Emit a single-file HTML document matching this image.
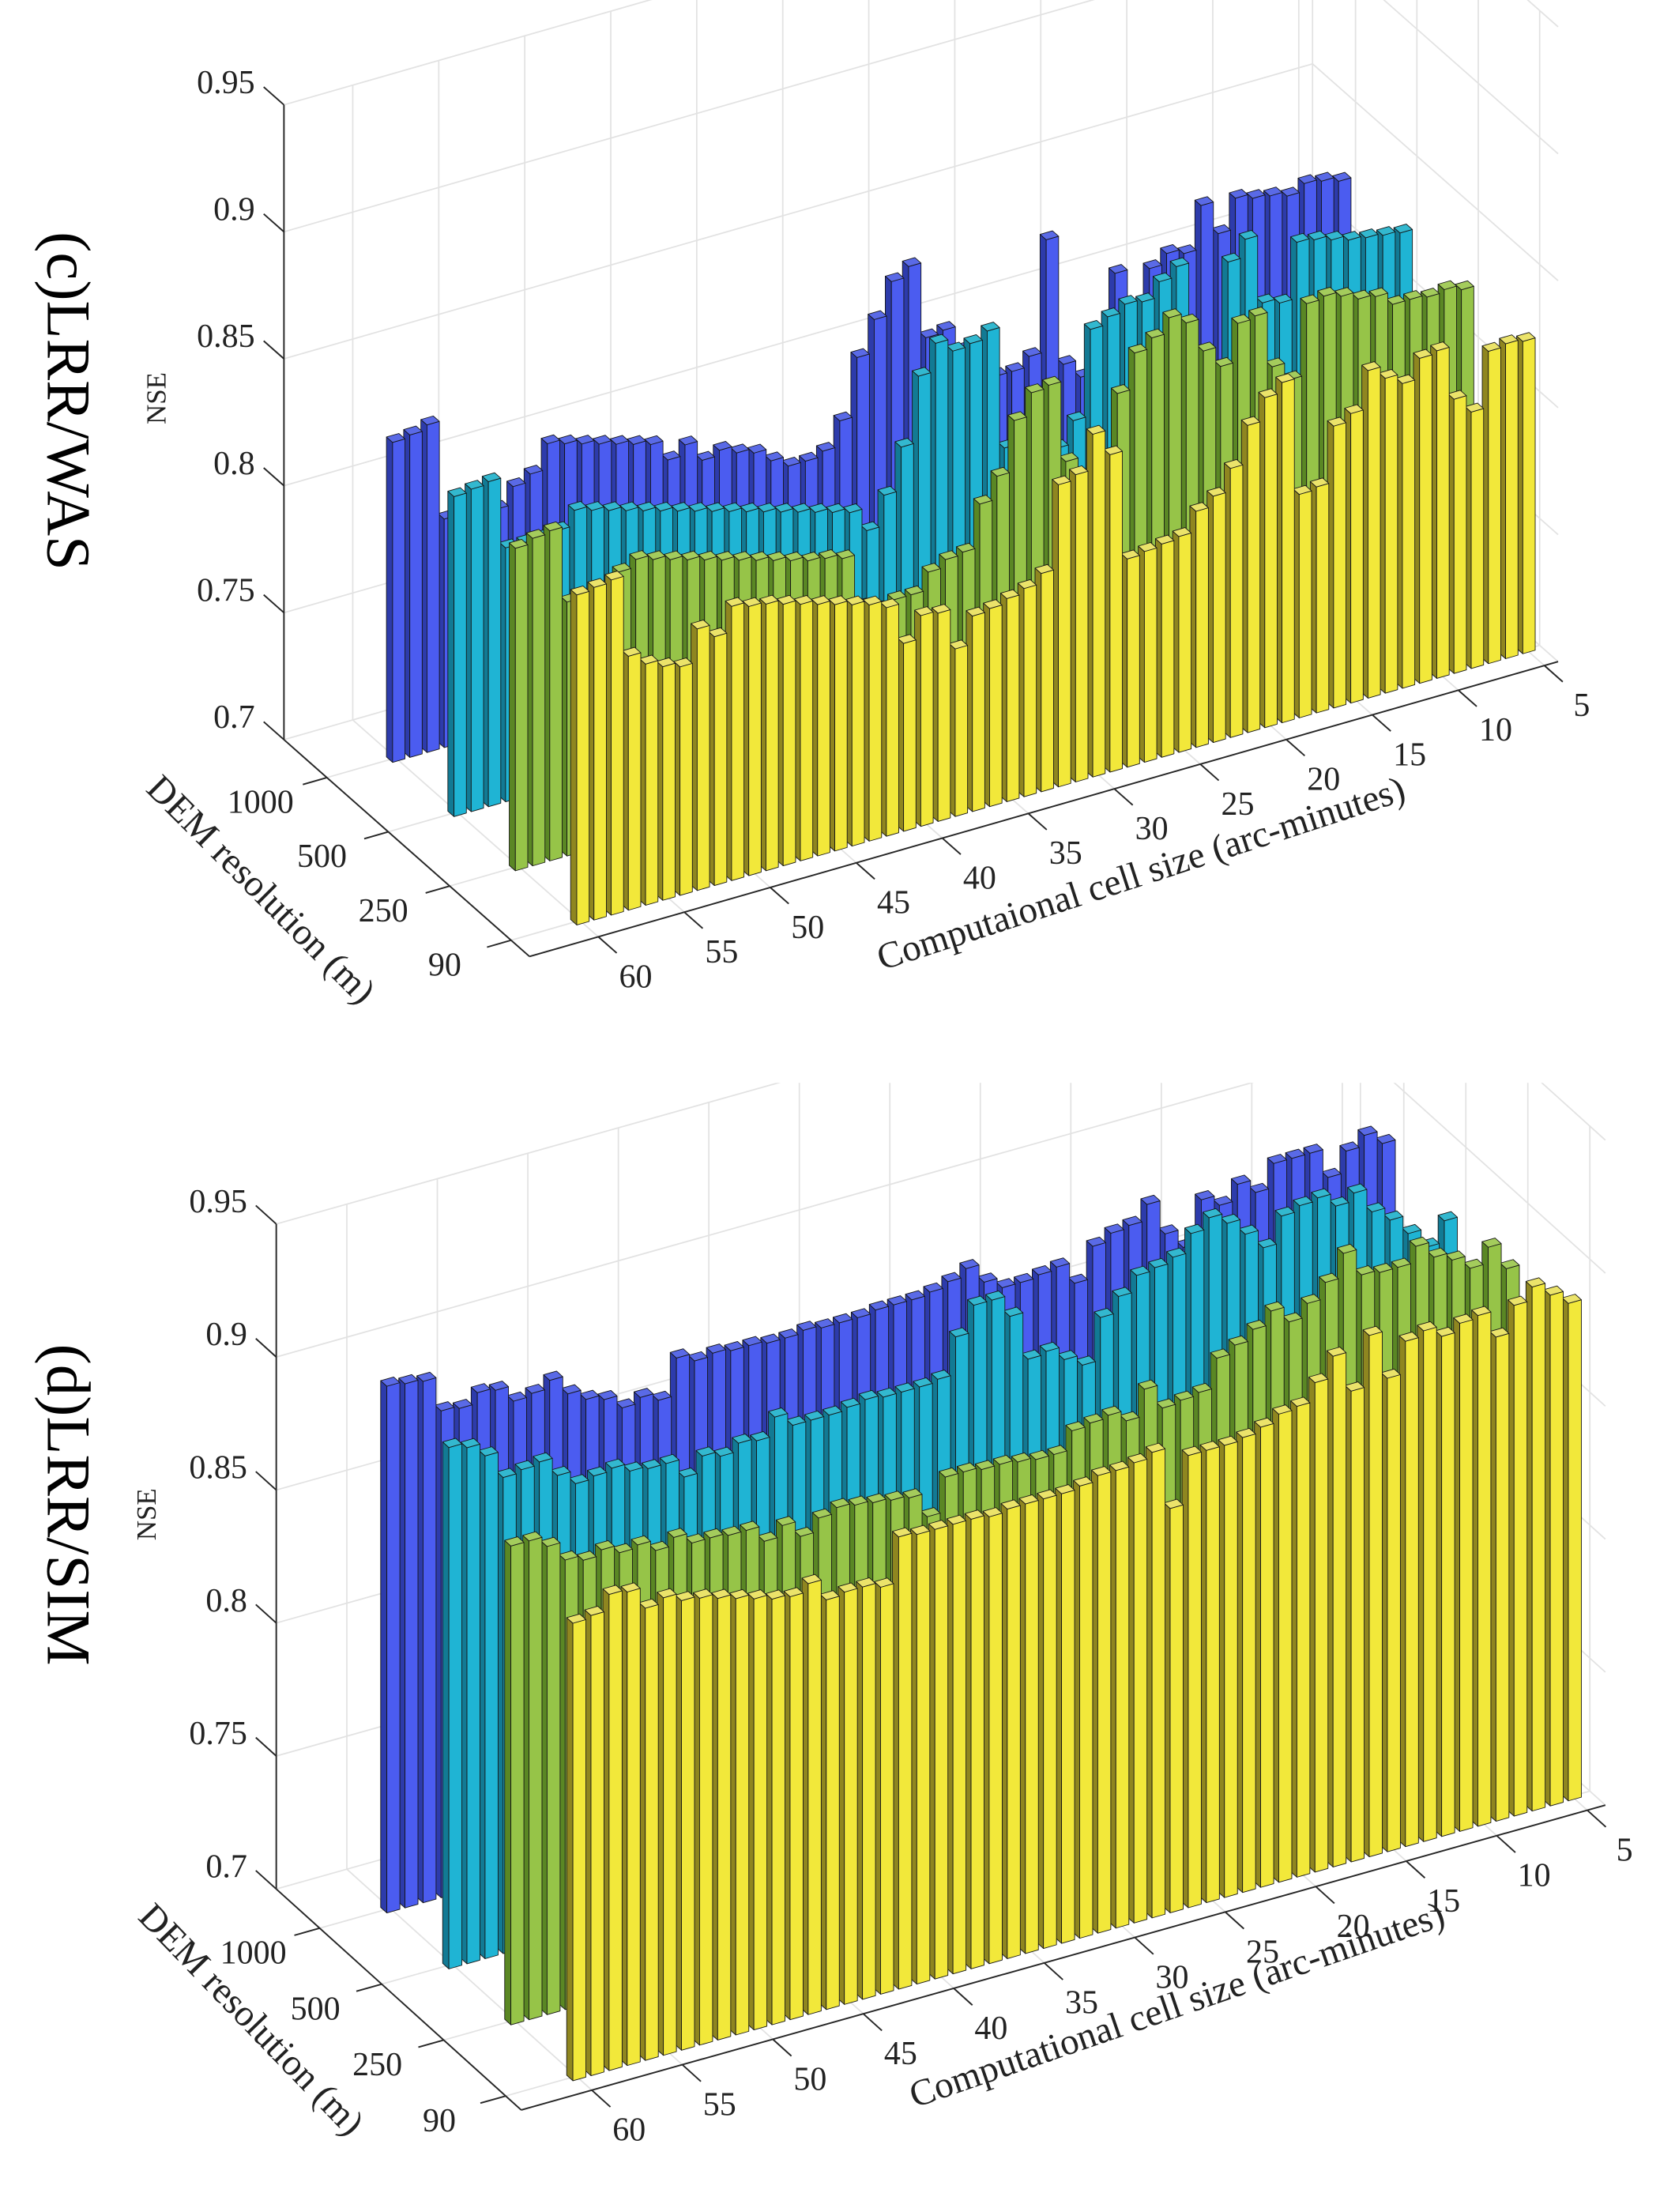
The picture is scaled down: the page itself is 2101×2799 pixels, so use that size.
<!DOCTYPE html>
<html><head><meta charset="utf-8"><title>NSE 3D bar charts</title>
<style>html,body{margin:0;padding:0;background:#fff}svg{display:block}</style></head>
<body>
<svg id="chart" xmlns="http://www.w3.org/2000/svg" width="2101" height="2799" viewBox="0 0 1200.57 1599.43" preserveAspectRatio="none" font-family="'Liberation Serif', serif">
<rect x="0" y="0" width="1201" height="1600" fill="#fff"/>
<defs>
<clipPath id="clip-c"><rect x="0" y="0" width="1201" height="770"/></clipPath>
<clipPath id="clip-d"><rect x="0" y="783" width="1201" height="820"/></clipPath>
</defs>
<g id="panel-c" clip-path="url(#clip-c)"></g>
<g id="panel-d" clip-path="url(#clip-d)"></g>
<text x="45" y="290" font-size="45" text-anchor="middle" dominant-baseline="middle" transform="rotate(90 45 290)" fill="#000">(c)LRR/WAS</text>
<text x="45" y="1088" font-size="45" text-anchor="middle" dominant-baseline="middle" transform="rotate(90 45 1088)" fill="#000">(d)LRR/SIM</text>
<text x="115" y="288" font-size="20" text-anchor="middle" dominant-baseline="middle" transform="rotate(-90 115 288)" fill="#222">NSE</text>
<text x="108" y="1095" font-size="20" text-anchor="middle" dominant-baseline="middle" transform="rotate(-90 108 1095)" fill="#222">NSE</text>
<text x="187" y="645" font-size="27" text-anchor="middle" dominant-baseline="middle" transform="rotate(45 187 645)" fill="#222">DEM resolution (m)</text>
<text x="180" y="1462" font-size="27" text-anchor="middle" dominant-baseline="middle" transform="rotate(46 180 1462)" fill="#222">DEM resolution (m)</text>
<text x="826" y="634" font-size="27" text-anchor="middle" dominant-baseline="middle" transform="rotate(-18 826 634)" fill="#222">Computaional cell size (arc-minutes)</text>
<text x="852" y="1452" font-size="27" text-anchor="middle" dominant-baseline="middle" transform="rotate(-19 852 1452)" fill="#222">Computational cell size (arc-minutes)</text>
</svg>
<script>
// ---- data (index 0 = cell size 60 ... index 55 = cell size 5) ----
const cellSizes = [60,59,58,57,56,55,54,53,52,51,50,49,48,47,46,45,44,43,42,41,40,39,38,37,36,35,34,33,32,31,30,29,28,27,26,25,24,23,22,21,20,19,18,17,16,15,14,13,12,11,10,9,8,7,6,5];
const demRows = [1,2,3,4];
const demLabels = ['1000','500','250','90'];
const xTicks = [5,10,15,20,25,30,35,40,45,50,55,60];
const xTickLabels = ['5','10','15','20','25','30','35','40','45','50','55','60'];
const zTicks = [0.7,0.75,0.8,0.85,0.9,0.95];
const zTickLabels = ['0.7','0.75','0.8','0.85','0.9','0.95'];

const wasBlue = [.826,.827,.829,.790,.790,.790,.788,.795,.798,.808,.806,.804,.802,.800,.798,.796,.788,.792,.784,.786,.783,.781,.776,.772,.772,.774,.784,.807,.820,.833,.837,.807,.808,.798,.785,.784,.784,.788,.832,.781,.774,.783,.811,.790,.809,.813,.811,.828,.815,.827,.825,.824,.822,.825,.824,.822];
const wasCyan = [.826,.827,.828,.800,.800,.800,.801,.807,.805,.803,.801,.799,.797,.795,.793,.791,.789,.787,.785,.783,.781,.779,.777,.775,.766,.778,.795,.821,.832,.827,.828,.831,.783,.776,.774,.777,.786,.820,.823,.826,.825,.831,.835,.789,.790,.831,.838,.811,.809,.831,.830,.828,.826,.825,.824,.823];
const wasGreen = [.827,.829,.830,.800,.800,.800,.806,.809,.807,.805,.803,.801,.799,.797,.795,.793,.791,.789,.788,.786,.765,.762,.764,.764,.771,.774,.775,.792,.801,.821,.830,.831,.799,.791,.792,.820,.834,.838,.844,.840,.827,.819,.834,.835,.813,.806,.834,.835,.833,.830,.829,.824,.824,.823,.824,.822];
const wasYellow = [.830,.831,.832,.800,.795,.792,.790,.803,.798,.808,.806,.805,.803,.801,.799,.797,.795,.793,.790,.774,.783,.782,.766,.777,.778,.780,.782,.786,.819,.821,.835,.825,.782,.783,.784,.785,.793,.797,.806,.821,.830,.834,.788,.789,.811,.814,.829,.824,.820,.828,.829,.808,.801,.823,.824,.823];

const simBlue = [.898,.897,.896,.883,.882,.886,.885,.879,.880,.883,.876,.872,.870,.865,.867,.864,.878,.875,.876,.875,.875,.874,.874,.875,.874,.874,.874,.875,.875,.875,.876,.878,.881,.874,.870,.870,.871,.872,.864,.876,.879,.880,.886,.873,.866,.882,.878,.884,.879,.888,.888,.888,.877,.885,.889,.884];
const simCyan = [.896,.894,.889,.879,.880,.881,.874,.869,.870,.871,.868,.867,.867,.860,.866,.864,.867,.866,.873,.868,.868,.868,.869,.870,.869,.869,.869,.870,.884,.894,.894,.886,.868,.869,.864,.860,.876,.882,.888,.889,.891,.898,.902,.898,.892,.885,.895,.897,.898,.893,.896,.887,.882,.875,.868,.876];
const simGreen = [.880,.880,.876,.869,.867,.869,.866,.867,.863,.866,.862,.862,.861,.861,.855,.859,.853,.858,.860,.859,.858,.857,.856,.847,.860,.860,.859,.859,.858,.857,.857,.864,.865,.866,.862,.872,.863,.864,.865,.876,.879,.883,.888,.882,.887,.893,.902,.892,.891,.891,.897,.891,.888,.883,.889,.879];
const simYellow = [.872,.873,.879,.878,.870,.872,.869,.868,.866,.864,.862,.860,.859,.862,.854,.855,.855,.853,.870,.869,.869,.869,.869,.868,.869,.869,.869,.869,.870,.872,.872,.873,.875,.852,.870,.870,.870,.871,.873,.876,.877,.884,.892,.877,.896,.878,.890,.892,.888,.891,.892,.882,.892,.897,.892,.887];

const rowFront = ['#4b5cf0','#1fb4d4','#96c448','#f2e83a'];
const rowSide  = ['#2d3bab','#127a94','#5a8724','#8f8620'];
const rowTop   = ['#5a6ae6','#33b8cf','#a4cc5c','#ebe36a'];
const rowNames = ['1000m','500m','250m','90m'];

const NS = 'http://www.w3.org/2000/svg';
const panels = [
  {id:'c', A:[419.4,665.6], ex:[12.44,-3.566], ey:[44.4,39.2], ez:1836, cmax:64.0, cmin:4.2, r0:0.3, rf:4.3,
   series:[wasBlue,wasCyan,wasGreen,wasYellow]},
  {id:'d', A:[416.8,1501.2], ex:[13.09,-3.68], ey:[44.85,40.45], ez:1923.4, cmax:63.9, cmin:4.0, r0:0.3, rf:4.25,
   series:[simBlue,simCyan,simGreen,simYellow]}
];
const zMin = 0.7, zMax = 0.95;

function proj(p, c, r, z) {
  return [p.A[0] + (60 - c) * p.ex[0] + (r - 4) * p.ey[0],
          p.A[1] + (60 - c) * p.ex[1] + (r - 4) * p.ey[1] - (z - zMin) * p.ez];
}
function pts(arr) { return arr.map(q => q[0].toFixed(2) + ',' + q[1].toFixed(2)).join(' '); }
function mkLine(g, a, b, stroke, w) {
  const el = document.createElementNS(NS, 'line');
  el.setAttribute('x1', a[0]); el.setAttribute('y1', a[1]);
  el.setAttribute('x2', b[0]); el.setAttribute('y2', b[1]);
  el.setAttribute('stroke', stroke); el.setAttribute('stroke-width', w);
  g.appendChild(el);
  return el;
}
function mkPoly(g, arr, fill) {
  const el = document.createElementNS(NS, 'polygon');
  el.setAttribute('points', pts(arr));
  el.setAttribute('fill', fill);
  el.setAttribute('stroke', '#141414');
  el.setAttribute('stroke-width', '0.5');
  el.setAttribute('stroke-linejoin', 'round');
  g.appendChild(el);
  return el;
}
function mkText(g, x, y, s, anchor) {
  const el = document.createElementNS(NS, 'text');
  el.setAttribute('x', x); el.setAttribute('y', y);
  el.setAttribute('font-size', '24');
  el.setAttribute('fill', '#222');
  el.setAttribute('text-anchor', anchor);
  el.setAttribute('dominant-baseline', 'middle');
  el.textContent = s;
  g.appendChild(el);
  return el;
}

panels.forEach(p => {
  const root = document.getElementById('panel-' + p.id);
  const grid = document.createElementNS(NS, 'g');
  
  
  root.appendChild(grid);
  const gc = '#e2e2e2';
  xTicks.forEach(c => {
    const l1 = mkLine(grid, proj(p, c, p.r0, zMin), proj(p, c, p.r0, zMax), gc, 1);
    
    
    const l2 = mkLine(grid, proj(p, c, p.r0, zMin), proj(p, c, p.rf, zMin), gc, 1);
    
    
  });
  zTicks.forEach(z => {
    const l1 = mkLine(grid, proj(p, p.cmax, p.r0, z), proj(p, p.cmin, p.r0, z), gc, 1);
    
    
    const l2 = mkLine(grid, proj(p, p.cmin, p.r0, z), proj(p, p.cmin, p.rf, z), gc, 1);
    
    
  });
  demRows.forEach(r => {
    const l1 = mkLine(grid, proj(p, p.cmax, r, zMin), proj(p, p.cmin, r, zMin), gc, 1);
    
    
    const l2 = mkLine(grid, proj(p, p.cmin, r, zMin), proj(p, p.cmin, r, zMax), gc, 1);
    
    
  });
  const edge = mkLine(grid, proj(p, p.cmin, p.r0, zMin), proj(p, p.cmin, p.r0, zMax), gc, 1);
  
  

  // bars
  const hw = 0.36, hd = 0.05;
  p.series.forEach((vals, ri) => {
    const r = demRows[ri];
    const g = document.createElementNS(NS, 'g');
    
    
    root.appendChild(g);
    for (let k = vals.length - 1; k >= 0; k--) {
      const c = cellSizes[k], v = vals[k];
      const cl = c + hw, cr = c - hw, rfr = r + hd, rb = r - hd;
      const bar = document.createElementNS(NS, 'g');
      
      
      g.appendChild(bar);
      mkPoly(bar, [proj(p,cl,rb,zMin), proj(p,cl,rfr,zMin), proj(p,cl,rfr,v), proj(p,cl,rb,v)], rowSide[ri]);
      mkPoly(bar, [proj(p,cl,rfr,zMin), proj(p,cr,rfr,zMin), proj(p,cr,rfr,v), proj(p,cl,rfr,v)], rowFront[ri]);
      mkPoly(bar, [proj(p,cl,rb,v), proj(p,cr,rb,v), proj(p,cr,rfr,v), proj(p,cl,rfr,v)], rowTop[ri]);
    }
  });

  // axes
  const ax = document.createElementNS(NS, 'g');
  
  
  root.appendChild(ax);
  const ac = '#262626';
  const za = mkLine(ax, proj(p, p.cmax, p.r0, zMin), proj(p, p.cmax, p.r0, zMax), ac, 1.1);
  
  
  const da = mkLine(ax, proj(p, p.cmax, p.r0, zMin), proj(p, p.cmax, p.rf, zMin), ac, 1.1);
  
  
  const xa = mkLine(ax, proj(p, p.cmax, p.rf, zMin), proj(p, p.cmin, p.rf, zMin), ac, 1.1);
  
  

  zTicks.forEach((z, i) => {
    const a = proj(p, p.cmax, p.r0, z), b = proj(p, p.cmax, p.r0 - 0.33, z);
    const t = mkLine(ax, a, b, ac, 1.1);
    
    
    const lab = mkText(ax, a[0] - 21, a[1] - 14, zTickLabels[i], 'end');
    
    
  });
  demRows.forEach((r, i) => {
    const a = proj(p, p.cmax, r, zMin), b = proj(p, p.cmax + 1.4, r, zMin);
    const t = mkLine(ax, a, b, ac, 1.1);
    
    
    const lab = mkText(ax, a[0] - 48, a[1] + 20, demLabels[i], 'middle');
    
    
  });
  xTicks.forEach((c, i) => {
    const a = proj(p, c, p.rf, zMin), b = proj(p, c, p.rf + 0.3, zMin);
    const t = mkLine(ax, a, b, ac, 1.1);
    
    
    const lab = mkText(ax, a[0] + 27, a[1] + 31, xTickLabels[i], 'middle');
    
    
  });
});
</script>
</body></html>
